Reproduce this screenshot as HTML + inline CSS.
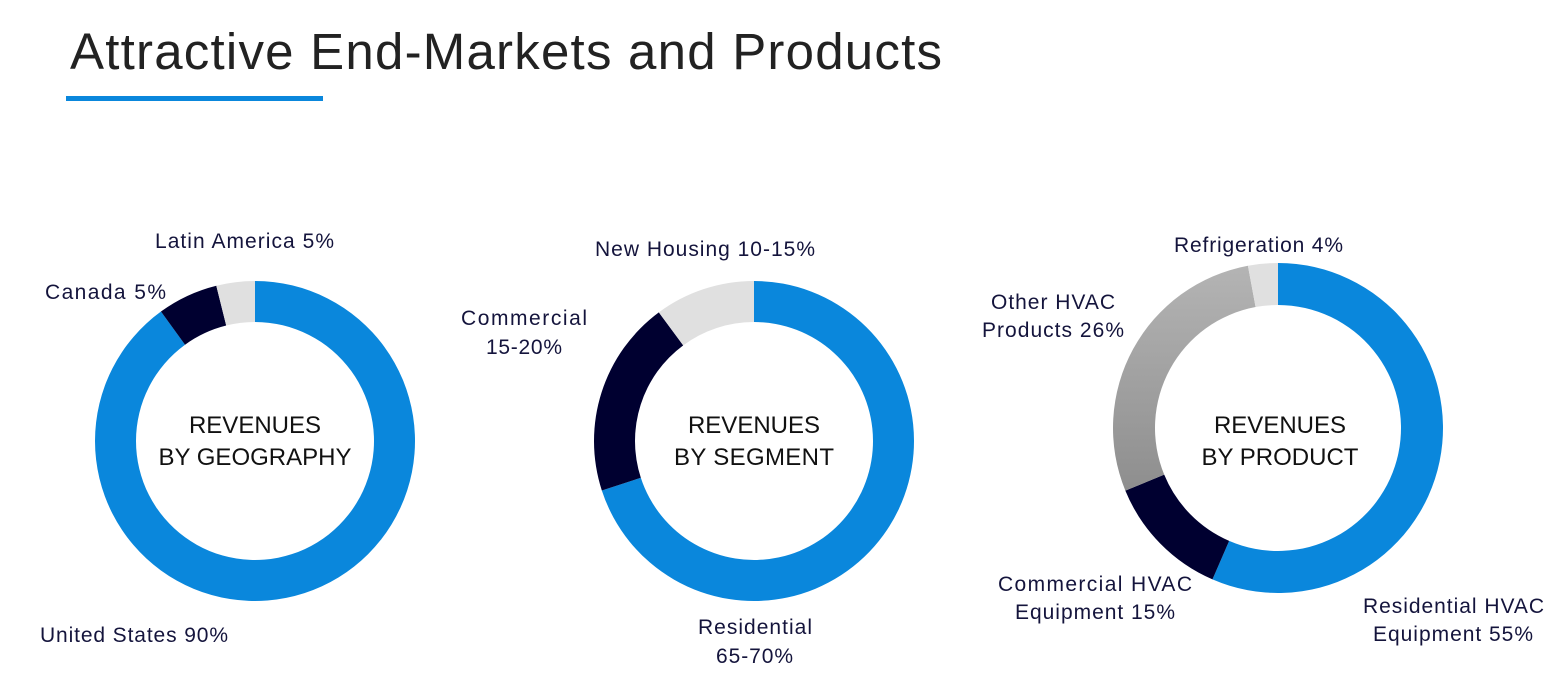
<!DOCTYPE html>
<html><head><meta charset="utf-8"><style>
body{margin:0;background:#fff;}
svg{display:block;font-family:"Liberation Sans",sans-serif;}
.l{font-size:21px;fill:#14143c;}
.c{font-size:24px;fill:#111;text-anchor:middle;}
</style></head><body>
<svg width="1560" height="677" viewBox="0 0 1560 677">
<defs>
<linearGradient id="g" x1="0" y1="0" x2="0" y2="1"><stop offset="0" stop-color="#b4b4b4"/><stop offset="1" stop-color="#8e8e8e"/></linearGradient>
</defs>
<text x="70" y="69" font-size="51" fill="#222" textLength="872" lengthAdjust="spacing">Attractive End-Markets and Products</text>
<rect x="66" y="96" width="257" height="5" fill="#0a87dc"/>
<g id="d"></g>
<text class="l" x="155" y="248" textLength="179">Latin America 5%</text>
<text class="l" x="45" y="299" textLength="121">Canada  5%</text>
<text class="l" x="40" y="642" textLength="188">United States 90%</text>
<text class="c" x="255" y="433">REVENUES</text><text class="c" x="255" y="465" textLength="193">BY GEOGRAPHY</text>
<text class="l" x="595" y="256" textLength="220">New Housing 10-15%</text>
<text class="l" x="461" y="325" textLength="126">Commercial</text><text class="l" x="486" y="354" textLength="76">15-20%</text>
<text class="l" x="698" y="634" textLength="114">Residential</text><text class="l" x="716" y="663" textLength="77">65-70%</text>
<text class="c" x="754" y="433">REVENUES</text><text class="c" x="754" y="465" textLength="160">BY SEGMENT</text>
<text class="l" x="1174" y="252" textLength="169">Refrigeration 4%</text>
<text class="l" x="991" y="309" textLength="124">Other HVAC</text><text class="l" x="982" y="337" textLength="142">Products 26%</text>
<text class="l" x="998" y="591" textLength="194">Commercial HVAC</text><text class="l" x="1015" y="619" textLength="160">Equipment 15%</text>
<text class="l" x="1363" y="613" textLength="181">Residential HVAC</text><text class="l" x="1373" y="641" textLength="160">Equipment 55%</text>
<text class="c" x="1280" y="433">REVENUES</text><text class="c" x="1280" y="465">BY PRODUCT</text>
</svg>
<script>
function arc(cx,cy,R,r,a0,a1,fill){
 const p=a=>[Math.sin(a*Math.PI/180),-Math.cos(a*Math.PI/180)];
 const [s0x,s0y]=p(a0),[s1x,s1y]=p(a1);const lg=(a1-a0)>180?1:0;
 return `<path d="M${cx+R*s0x} ${cy+R*s0y} A${R} ${R} 0 ${lg} 1 ${cx+R*s1x} ${cy+R*s1y} L${cx+r*s1x} ${cy+r*s1y} A${r} ${r} 0 ${lg} 0 ${cx+r*s0x} ${cy+r*s0y}Z" fill="${fill}"/>`;
}
const B="#0a87dc",D="#000030",L="#e0e0e0";
let h="";
h+=arc(255,441,160,119,0,324,B)+arc(255,441,160,119,324,346,D)+arc(255,441,160,119,346,360,L);
h+=arc(754,441,160,119,0,252,B)+arc(754,441,160,119,252,323.5,D)+arc(754,441,160,119,323.5,360,L);
h+=arc(1278,428,165,123,0,203.4,B)+arc(1278,428,165,123,203.4,247.7,D)+arc(1278,428,165,123,247.7,349.5,"url(#g)")+arc(1278,428,165,123,349.5,360,L);
document.getElementById("d").outerHTML="<g>"+h+"</g>";
</script>
</body></html>
